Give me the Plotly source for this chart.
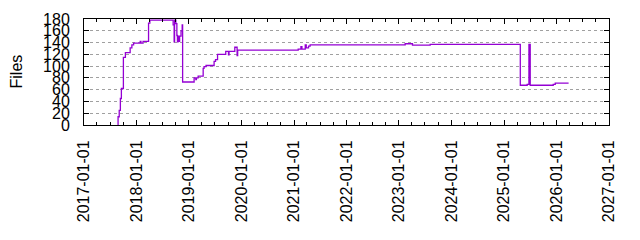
import plotly.graph_objects as go

dates = [
    "2017-08-24", "2017-08-26", "2017-09-03", "2017-09-11", "2017-09-18",
    "2017-10-02", "2017-10-16", "2017-11-18", "2017-11-30", "2017-12-12",
    "2018-01-27", "2018-02-01", "2018-02-16", "2018-03-26", "2018-04-04",
    "2018-09-13", "2018-09-20", "2018-09-23", "2018-10-02", "2018-10-09",
    "2018-10-13", "2018-10-17", "2018-10-25", "2018-10-28", "2018-11-07",
    "2018-11-15", "2018-11-18", "2019-02-06", "2019-02-18", "2019-02-22",
    "2019-03-06", "2019-04-10", "2019-04-16", "2019-04-30", "2019-06-25",
    "2019-07-05", "2019-07-19", "2019-09-14", "2019-10-03", "2019-10-07",
    "2019-11-16", "2019-12-02", "2019-12-06", "2021-01-30", "2021-02-18",
    "2021-02-25", "2021-03-20", "2021-03-27", "2021-04-12", "2021-04-23",
    "2023-02-13", "2023-04-05", "2023-08-06", "2025-04-24", "2025-06-11",
    "2025-06-23", "2025-07-02", "2025-12-09", "2025-12-23", "2026-03-26",
]
files = [
    0, 14, 25, 45, 62,
    115, 123, 131, 136, 139,
    142, 139, 142, 173, 178,
    170, 141, 178, 172, 152,
    141, 151, 142, 151, 160,
    170, 73, 80, 77, 80,
    83, 96, 99, 101, 108,
    111, 120, 125, 119, 125,
    132, 118, 127, 129, 133,
    129, 136, 131, 134, 136,
    138, 135.5, 137, 67.5, 69,
    137, 67.5, 69, 71, 71,
]
y_ticks = [0, 20, 40, 60, 80, 100, 120, 140, 160, 180]
x_range = ["2017-01-01", "2027-01-01"]

FONT = "Liberation Sans, Arial, sans-serif"

fig = go.Figure()
fig.add_trace(go.Scatter(
    x=dates, y=files, mode="lines", line=dict(color="#9400D3", width=1.3, shape="hv"),
    showlegend=False, hoverinfo="skip",
))

fig.update_layout(
    width=640, height=240,
    margin=dict(l=84, r=31, t=19, b=115),
    paper_bgcolor="white", plot_bgcolor="white",
    font=dict(family=FONT, size=16, color="black"),
    showlegend=False,
)
fig.update_xaxes(
    type="date", range=x_range,
    tick0="2017-01-01", dtick="M12", tickformat="%Y-%m-%d", tickangle=-90,
    ticks="inside", ticklen=5, tickcolor="black", tickwidth=1,
    minor=dict(ticks="inside", ticklen=3, dtick="M3", tick0="2017-01-01", tickcolor="black", showgrid=False),
    showline=True, linecolor="black", linewidth=1, mirror="allticks",
    showgrid=False, zeroline=False,
    tickfont=dict(family=FONT, size=16, color="black"),
    ticklabelstandoff=8,
)
fig.update_yaxes(
    range=[0, 180], tickvals=y_ticks, ticktext=[str(v) for v in y_ticks],
    ticks="inside", ticklen=5, tickcolor="black", tickwidth=1,
    showline=True, linecolor="black", linewidth=1, mirror="allticks",
    showgrid=True, gridcolor="#a0a0a0", griddash="3px,3px", gridwidth=1,
    zeroline=False,
    tickfont=dict(family=FONT, size=16, color="black"),
    ticklabelstandoff=10,
)
fig.add_annotation(
    text="Files", textangle=-90, showarrow=False,
    xref="paper", yref="paper", x=0, y=0.5, xanchor="center", yanchor="middle",
    xshift=-68.5, font=dict(family=FONT, size=16, color="black"),
)
fig.write_html("out.html")
